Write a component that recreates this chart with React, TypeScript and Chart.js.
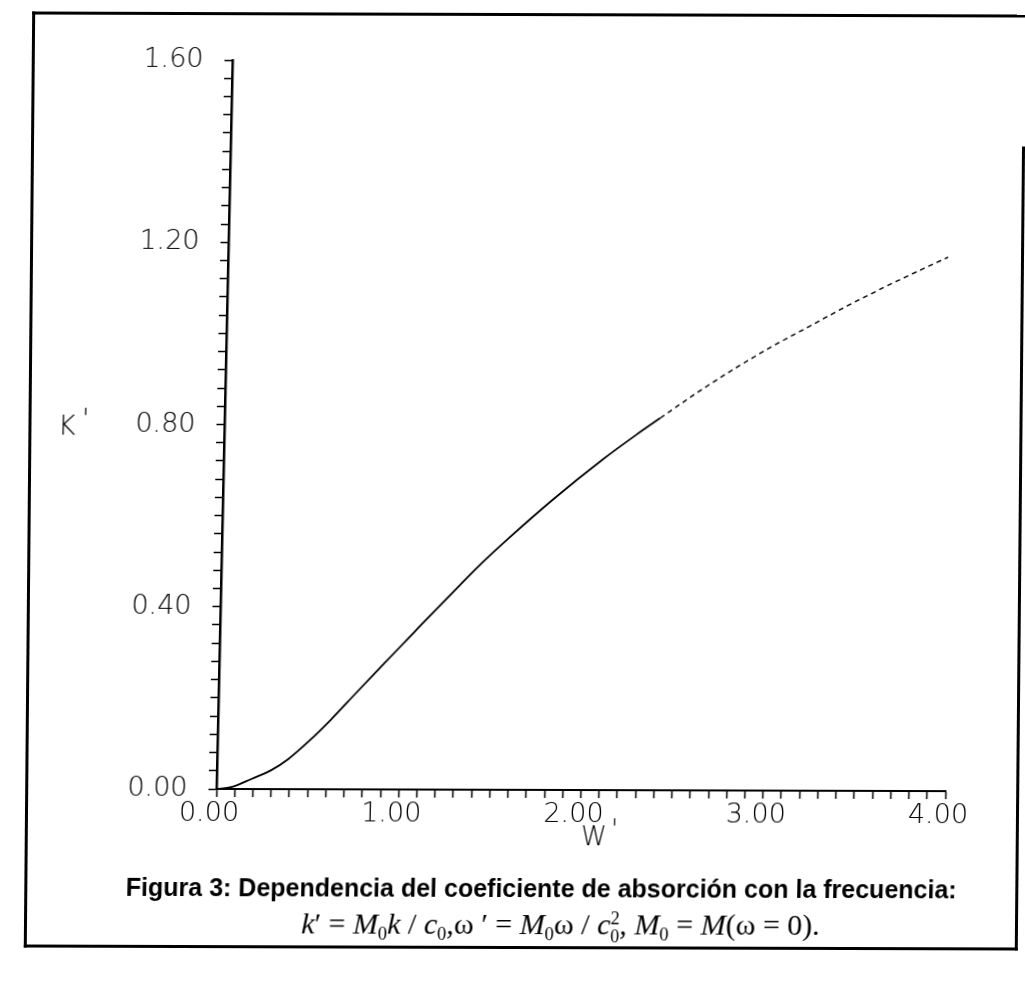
import React, { useEffect, useRef } from 'react';
import { Chart, registerables } from 'chart.js';

Chart.register(...registerables);

// ---- data ----
const W_VALUES = [0, 0.08, 0.19, 0.30, 0.39, 0.50, 0.62, 0.76, 0.89, 1.03, 1.10, 1.28, 1.42, 1.57, 1.81, 2.08, 2.26, 2.39, 2.60, 2.80, 3.00, 3.20, 3.40, 3.61, 3.78, 3.95];
const K_VALUES = [0, 0.004, 0.022, 0.042, 0.066, 0.105, 0.153, 0.214, 0.27, 0.33, 0.36, 0.436, 0.494, 0.551, 0.637, 0.726, 0.78, 0.817, 0.876, 0.928, 0.976, 1.02, 1.064, 1.107, 1.14, 1.172];

const X_TICK_LABELS = ['0.00', '1.00', '2.00', '3.00', '4.00'];
const Y_TICK_LABELS = ['0.00', '0.40', '0.80', '1.20', '1.60'];
const X_MINOR_STEP = 0.1;
const Y_MINOR_STEP = 0.04;
const Y_MAJOR_STEP = 0.4;

const TICK_FONT = { family: '"DejaVu Sans", "Liberation Sans", sans-serif', size: 27, weight: 200 as any };

export default function App() {
  const canvasRef = useRef<HTMLCanvasElement | null>(null);

  useEffect(() => {
    const ctx = canvasRef.current;
    if (!ctx) return;
    const chart = new Chart(ctx, {
      type: 'line',
      data: {
        datasets: [
          {
            data: W_VALUES.map((w, i) => ({ x: w, y: K_VALUES[i] })),
            borderColor: '#000',
            borderWidth: 1.8,
            pointRadius: 0,
            fill: false,
            cubicInterpolationMode: 'monotone',
            segment: {
              borderDash: (c: any) => (c.p0.parsed.x >= 2.39 ? [5, 4] : undefined),
              borderWidth: (c: any) => (c.p0.parsed.x >= 2.39 ? 1.4 : 1.8),
            },
          },
        ],
      },
      options: {
        animation: false,
        responsive: false,
        maintainAspectRatio: false,
        layout: { padding: { left: 123, right: 73, top: 61, bottom: 136 } },
        plugins: { legend: { display: false }, tooltip: { enabled: false } },
        scales: {
          x: {
            type: 'linear',
            min: 0,
            max: 4,
            afterBuildTicks: (s: any) => {
              const t = [];
              for (let i = 0; i <= 40; i++) t.push({ value: +(i * X_MINOR_STEP).toFixed(2) });
              s.ticks = t;
            },
            afterFit: (s: any) => {
              s.height = 60;
            },
            ticks: {
              autoSkip: false,
              minRotation: 0,
              maxRotation: 0,
              color: '#000',
              font: TICK_FONT,
              padding: 1,
              labelOffset: -7,
              callback: (v: any) => {
                const i = Math.round(v);
                return Math.abs(v - i) < 1e-6 ? X_TICK_LABELS[i] : '';
              },
            },
            grid: { drawOnChartArea: false, drawTicks: true, tickLength: 8, tickColor: '#000', tickWidth: 1.5 },
            border: { display: true, color: '#000', width: 2 },
          },
          y: {
            type: 'linear',
            min: 0,
            max: 1.6,
            afterBuildTicks: (s: any) => {
              const t = [];
              for (let i = 0; i <= 40; i++) t.push({ value: +(i * Y_MINOR_STEP).toFixed(2) });
              s.ticks = t;
            },
            afterFit: (s: any) => {
              s.width = 100;
            },
            ticks: {
              autoSkip: false,
              color: '#000',
              font: TICK_FONT,
              padding: 21,
              callback: (v: any) => {
                const i = Math.round(v / Y_MAJOR_STEP);
                return Math.abs(v - i * Y_MAJOR_STEP) < 1e-6 ? Y_TICK_LABELS[i] : '';
              },
            },
            grid: { drawOnChartArea: false, drawTicks: true, tickLength: 8, tickColor: '#000', tickWidth: 1.5 },
            border: { display: true, color: '#000', width: 2.5 },
          },
        },
      } as any,
    });
    return () => chart.destroy();
  }, []);

  const serif = '"Liberation Serif", "Times New Roman", serif';
  const sub = (t: string) => <span style={{ fontSize: '0.62em', verticalAlign: '-0.35em', fontStyle: 'normal' }}>{t}</span>;
  const frameT = 'matrix(1, 0.003, -0.009, 1, 0, 0)';

  return (
    <div style={{ position: 'absolute', left: 0, top: 0, width: 1025, height: 986, overflow: 'hidden', background: '#fff' }}>
      <div style={{ position: 'absolute', left: 0, top: 0, width: 1025, height: 986, transform: frameT, transformOrigin: '512px 480px' }}>
        <div style={{ position: 'absolute', left: 28, top: 13, width: 994, height: 936, borderTop: '3px solid #000', borderLeft: '3px solid #000', borderBottom: '3px solid #000', boxSizing: 'border-box' }} />
        <div style={{ position: 'absolute', left: 1019, top: 145, width: 3, height: 804, background: '#000' }} />
      </div>
      <div style={{ position: 'absolute', left: 0, top: 0, width: 1025, height: 986, transform: 'matrix(1, 0.003, -0.022, 1, 0, 0)', transformOrigin: '512px 493px' }}>
        <canvas ref={canvasRef} width={1025} height={986} style={{ position: 'absolute', left: 0, top: 0, width: 1025, height: 986 }} />
        <div style={{ position: 'absolute', left: 72, top: 426, transform: 'translate(-50%,-50%)', font: '200 27px "DejaVu Sans", sans-serif', whiteSpace: 'nowrap' }}>
          K<span style={{ marginLeft: 6, position: 'relative', top: -7 }}>'</span>
        </div>
        <div style={{ position: 'absolute', left: 607, top: 836, transform: 'translate(-50%,-50%)', font: '200 26px "DejaVu Sans", sans-serif', whiteSpace: 'nowrap' }}>
          W<span style={{ marginLeft: 4, position: 'relative', top: -7 }}>'</span>
        </div>
        <div style={{ position: 'absolute', left: 550, top: 888, transform: 'translate(-50%,-50%)', font: 'bold 25px "Liberation Sans", Arial, sans-serif', whiteSpace: 'nowrap' }}>
          Figura 3: Dependencia del coeficiente de absorción con la frecuencia:
        </div>
        <div style={{ position: 'absolute', left: 570, top: 926, transform: 'translate(-50%,-50%)', font: '30px ' + serif, whiteSpace: 'nowrap' }}>
          <i>k</i>′ = <i>M</i>{sub('0')}<i>k</i> / <i>c</i>{sub('0')},ω ′ = <i>M</i>{sub('0')}ω / <i>c</i>
          <span style={{ display: 'inline-flex', flexDirection: 'column', verticalAlign: 'middle', fontSize: '0.6em', lineHeight: 1 }}>
            <span>2</span>
            <span>0</span>
          </span>
          , <i>M</i>{sub('0')} = <i>M</i>(ω = 0).
        </div>
      </div>
    </div>
  );
}
